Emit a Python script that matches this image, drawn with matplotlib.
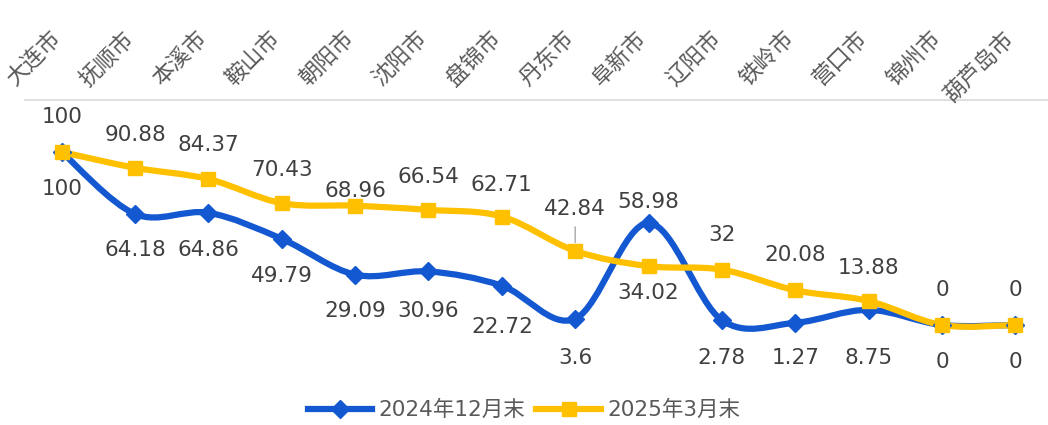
import matplotlib
matplotlib.use("Agg")
from matplotlib import pyplot as plt
from matplotlib.path import Path
from matplotlib.patches import PathPatch
from matplotlib.lines import Line2D
import numpy as np

cities = ["大连市", "抚顺市", "本溪市", "鞍山市", "朝阳市", "沈阳市", "盘锦市",
          "丹东市", "阜新市", "辽阳市", "铁岭市", "营口市", "锦州市", "葫芦岛市"]
dec_2024 = [100, 64.18, 64.86, 49.79, 29.09, 30.96, 22.72, 3.6, 58.98, 2.78, 1.27, 8.75, 0, 0]
mar_2025 = [100, 90.88, 84.37, 70.43, 68.96, 66.54, 62.71, 42.84, 34.02, 32, 20.08, 13.88, 0, 0]
series_names = ["2024年12月末", "2025年3月末"]

# label offsets in pixels (negative = above the point), as placed in the original
dec_label_dy = [37, 36, 37, 37, 36, 40, 41, 39, -21, 38, 35, 48, 37, 37]
mar_label_dy = [-35, -33, -34, -33, -15, -33, -32, -42, 27, -35, -35, -33, -35, -35]

BLUE = "#1358D0"
YELLOW = "#FFC000"
TEXT = "#404040"
CJK = ["Noto Sans CJK SC", "DejaVu Sans"]


def smooth_path(xs, ys, t=1 / 6):
    # Catmull-Rom style bezier through points, like a spreadsheet "smoothed line"
    pts = np.column_stack([xs, ys]).astype(float)
    n = len(pts)
    verts = [pts[0]]
    codes = [Path.MOVETO]
    for i in range(n - 1):
        p0 = pts[i - 1] if i > 0 else pts[i]
        p1 = pts[i]
        p2 = pts[i + 1]
        p3 = pts[i + 2] if i + 2 < n else pts[i + 1]
        c1 = p1 + (p2 - p0) * t
        c2 = p2 - (p3 - p1) * t
        verts += [c1, c2, p2]
        codes += [Path.CURVE4] * 3
    return Path(verts, codes)


fig = plt.figure(figsize=(10.48, 4.25), dpi=100)
ax = fig.add_axes([25 / 1048, 1 - 380 / 425, 1027 / 1048, 280 / 425])
x = np.arange(len(cities))
ax.set_xlim(-0.5, len(cities) - 0.5)
ax.set_ylim((325 - 380) / 1.73, (325 - 100) / 1.73)

for vals, color, marker, ms in [(dec_2024, BLUE, "D", 9), (mar_2025, YELLOW, "s", 10)]:
    patch = PathPatch(smooth_path(x, vals), facecolor="none", edgecolor=color,
                      lw=4.5, capstyle="round", joinstyle="round", zorder=3)
    ax.add_patch(patch)
    ax.plot(x, vals, linestyle="none", marker=marker, ms=ms, color=color, zorder=4)

for i in range(len(cities)):
    ax.annotate(f"{dec_2024[i]:g}", xy=(x[i], dec_2024[i]), xytext=(0, -dec_label_dy[i]),
                textcoords="offset pixels", ha="center", va="center",
                fontsize=15.5, color=TEXT, zorder=5)
    ax.annotate(f"{mar_2025[i]:g}", xy=(x[i], mar_2025[i]), xytext=(0, -mar_label_dy[i]),
                textcoords="offset pixels", ha="center", va="center",
                fontsize=15.5, color=TEXT, zorder=5)

# leader line for 丹东市 label
ax.annotate("", xy=(x[7], mar_2025[7]), xytext=(0, 24), textcoords="offset pixels",
            xycoords="data",
            arrowprops=dict(arrowstyle="-", color="#A6A6A6", lw=1, shrinkA=0, shrinkB=6))

for i, name in enumerate(cities):
    ax.annotate(name, xy=(x[i], 1), xycoords=("data", "axes fraction"),
                xytext=(-5, 65), textcoords="offset pixels", rotation=45,
                rotation_mode="anchor", ha="right", va="center",
                fontsize=16, fontweight="light", color="#595959", family=CJK)

for s in ["left", "right", "bottom"]:
    ax.spines[s].set_visible(False)
ax.spines["top"].set_color("#D9D9D9")
ax.spines["top"].set_linewidth(1.2)
ax.set_xticks([])
ax.set_yticks([])

handles = [Line2D([], [], color=BLUE, lw=4.5, marker="D", ms=9),
           Line2D([], [], color=YELLOW, lw=4.5, marker="s", ms=10)]
leg = fig.legend(handles, series_names, loc="center", bbox_to_anchor=(0.5, 1 - 410 / 425),
                 ncol=2, frameon=False, handlelength=3.0, columnspacing=0.5,
                 handletextpad=0.3, prop={"family": ["DejaVu Sans", "Noto Sans CJK SC"], "size": 15.5})
for t in leg.get_texts():
    t.set_color("#595959")

fig.savefig("out.png", dpi=100)
